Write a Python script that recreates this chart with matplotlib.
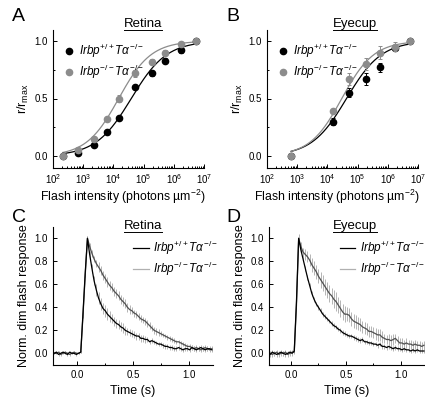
import matplotlib
matplotlib.use("Agg")
import matplotlib.pyplot as plt
from matplotlib.ticker import MultipleLocator, LogLocator, NullFormatter
import numpy as np

plt.rcParams['font.family'] = ['Liberation Sans', 'DejaVu Sans']
plt.rcParams['mathtext.fontset'] = 'custom'
plt.rcParams['mathtext.rm'] = 'Liberation Sans'
plt.rcParams['mathtext.it'] = 'Liberation Sans:italic'
plt.rcParams['mathtext.default'] = 'it'

# ---- intensity-response data (log10 of flash intensity) ----
ret_logI = [2.32, 2.83, 3.35, 3.79, 4.18, 4.71, 5.27, 5.72, 6.23, 6.73]
ret_wt = [0.00, 0.03, 0.10, 0.21, 0.33, 0.60, 0.72, 0.83, 0.92, 1.00]
ret_wt_err = [0.01, 0.01, 0.01, 0.01, 0.02, 0.02, 0.02, 0.02, 0.02, 0.00]
ret_ko = [0.00, 0.05, 0.15, 0.32, 0.50, 0.72, 0.82, 0.90, 0.97, 1.00]
ret_ko_err = [0.01, 0.01, 0.01, 0.01, 0.03, 0.03, 0.02, 0.02, 0.01, 0.00]

eye_logI = [2.80, 4.20, 4.72, 5.27, 5.74, 6.25, 6.73]
eye_wt = [0.00, 0.30, 0.55, 0.67, 0.77, 0.94, 1.00]
eye_wt_err = [0.00, 0.03, 0.04, 0.05, 0.04, 0.02, 0.00]
eye_ko = [0.00, 0.39, 0.67, 0.80, 0.90, 0.95, 1.00]
eye_ko_err = [0.00, 0.02, 0.05, 0.05, 0.06, 0.04, 0.00]

# Hill fit parameters: (I_half, n)
ret_wt_fit = (3.9e4, 0.74)
ret_ko_fit = (1.5e4, 0.81)
eye_wt_fit = (4.3e4, 0.75)
eye_ko_fit = (3.0e4, 0.82)

# ---- dim flash responses, sampled every 20 ms from -0.21 s ----
t0, dt = -0.21, 0.02
dim_ret_wt = [0.00, 0.01, -0.01, 0.00, 0.01, 0.00, -0.01, 0.01, 0.00, 0.00, -0.01, 0.00,
              0.01, 0.35, 0.70, 1.00, 0.86, 0.74, 0.63, 0.55, 0.48, 0.43, 0.39, 0.37,
              0.34, 0.32, 0.30, 0.28, 0.26, 0.25, 0.23, 0.22, 0.20, 0.19, 0.18, 0.17,
              0.16, 0.15, 0.15, 0.13, 0.13, 0.12, 0.12, 0.10, 0.11, 0.10, 0.09, 0.08,
              0.08, 0.07, 0.06, 0.06, 0.05, 0.05, 0.04, 0.04, 0.05, 0.04, 0.03, 0.04,
              0.04, 0.03, 0.05, 0.04, 0.03, 0.04, 0.05, 0.04, 0.03, 0.04, 0.04, 0.03]
dim_ret_ko = [0.00, 0.00, 0.01, -0.01, 0.00, 0.01, 0.00, -0.01, 0.00, 0.01, 0.00, 0.00,
              0.01, 0.33, 0.68, 1.00, 0.93, 0.87, 0.82, 0.78, 0.75, 0.72, 0.68, 0.65,
              0.62, 0.59, 0.57, 0.54, 0.52, 0.50, 0.47, 0.45, 0.43, 0.40, 0.38, 0.37,
              0.35, 0.34, 0.32, 0.30, 0.29, 0.28, 0.26, 0.24, 0.22, 0.20, 0.19, 0.18,
              0.17, 0.16, 0.15, 0.14, 0.13, 0.12, 0.11, 0.10, 0.10, 0.09, 0.08, 0.07,
              0.06, 0.06, 0.05, 0.04, 0.05, 0.04, 0.03, 0.04, 0.05, 0.04, 0.03, 0.04]
dim_eye_wt = [0.00, -0.01, 0.01, 0.00, -0.01, 0.00, 0.01, 0.00, -0.01, 0.00, 0.01, 0.00,
              0.02, 0.45, 1.00, 0.90, 0.82, 0.74, 0.66, 0.59, 0.52, 0.47, 0.43, 0.40,
              0.37, 0.34, 0.32, 0.30, 0.28, 0.26, 0.24, 0.23, 0.21, 0.20, 0.18, 0.17,
              0.16, 0.15, 0.15, 0.14, 0.13, 0.12, 0.11, 0.12, 0.10, 0.10, 0.09, 0.09,
              0.08, 0.08, 0.07, 0.08, 0.06, 0.06, 0.05, 0.06, 0.05, 0.04, 0.05, 0.04,
              0.04, 0.03, 0.04, 0.03, 0.03, 0.02, 0.03, 0.02, 0.03, 0.02, 0.02, 0.02]
dim_eye_ko = [0.01, 0.00, -0.01, 0.00, 0.01, -0.01, 0.00, 0.00, 0.01, -0.01, 0.00, 0.01,
              0.01, 0.42, 1.00, 0.93, 0.88, 0.86, 0.84, 0.81, 0.77, 0.74, 0.71, 0.67,
              0.64, 0.61, 0.58, 0.55, 0.52, 0.50, 0.47, 0.45, 0.42, 0.39, 0.36, 0.34,
              0.34, 0.33, 0.30, 0.28, 0.27, 0.26, 0.25, 0.23, 0.22, 0.21, 0.19, 0.19,
              0.18, 0.17, 0.16, 0.16, 0.14, 0.13, 0.12, 0.12, 0.11, 0.12, 0.13, 0.11,
              0.09, 0.09, 0.08, 0.09, 0.08, 0.08, 0.07, 0.08, 0.07, 0.07, 0.06, 0.07]
dim_ret_wt_err = [0.01] * 13 + [0.02, 0.02, 0.02, 0.03, 0.04, 0.04, 0.05, 0.05, 0.05, 0.05, 0.05,
                                0.05, 0.05, 0.04, 0.04, 0.04, 0.04, 0.04, 0.04, 0.04, 0.03, 0.03,
                                0.03, 0.03, 0.03, 0.03, 0.03, 0.03, 0.03, 0.02, 0.02, 0.02, 0.02,
                                0.02, 0.02, 0.02, 0.02, 0.02, 0.02, 0.02, 0.02, 0.02, 0.02, 0.02,
                                0.02, 0.02, 0.02, 0.02, 0.02, 0.02, 0.02, 0.02, 0.02, 0.02, 0.02,
                                0.02, 0.02, 0.02, 0.02]
dim_ret_ko_err = [0.01] * 13 + [0.02, 0.02, 0.02, 0.03, 0.03, 0.03, 0.03, 0.04, 0.04, 0.04, 0.04,
                                0.04, 0.04, 0.04, 0.04, 0.04, 0.04, 0.04, 0.04, 0.04, 0.04, 0.04,
                                0.03, 0.03, 0.03, 0.03, 0.03, 0.03, 0.03, 0.03, 0.03, 0.03, 0.03,
                                0.03, 0.03, 0.02, 0.02, 0.02, 0.02, 0.02, 0.02, 0.02, 0.02, 0.02,
                                0.02, 0.02, 0.02, 0.02, 0.02, 0.02, 0.02, 0.02, 0.02, 0.02, 0.02,
                                0.02, 0.02, 0.02, 0.02]
dim_eye_wt_err = [0.02] * 13 + [0.02, 0.02, 0.02, 0.02, 0.02, 0.02, 0.02, 0.02, 0.02, 0.02, 0.02,
                                0.02, 0.02, 0.02, 0.02, 0.02, 0.02, 0.02, 0.02, 0.02, 0.02, 0.02,
                                0.02, 0.02, 0.02, 0.02, 0.02, 0.02, 0.02, 0.02, 0.02, 0.02, 0.02,
                                0.02, 0.02, 0.02, 0.02, 0.02, 0.02, 0.02, 0.02, 0.02, 0.02, 0.02,
                                0.02, 0.02, 0.02, 0.02, 0.02, 0.02, 0.02, 0.02, 0.02, 0.02, 0.02,
                                0.02, 0.02, 0.02, 0.02]
dim_eye_ko_err = [0.02] * 13 + [0.03, 0.04, 0.04, 0.04, 0.05, 0.05, 0.05, 0.06, 0.06, 0.06, 0.06,
                                0.07, 0.07, 0.07, 0.07, 0.07, 0.07, 0.08, 0.08, 0.07, 0.07, 0.07,
                                0.07, 0.06, 0.06, 0.06, 0.06, 0.06, 0.06, 0.06, 0.05, 0.05, 0.05,
                                0.05, 0.05, 0.05, 0.05, 0.05, 0.05, 0.05, 0.04, 0.04, 0.05, 0.05,
                                0.05, 0.04, 0.04, 0.04, 0.04, 0.04, 0.04, 0.04, 0.04, 0.04, 0.04,
                                0.04, 0.04, 0.04, 0.04]

lab_wt = r'$Irbp^{+/+}T\alpha^{-/-}$'
lab_ko = r'$Irbp^{-/-}T\alpha^{-/-}$'
GRAY = '#8c8c8c'


def hill(I, fit):
    Ih, n = fit
    return I ** n / (I ** n + Ih ** n)


def style(ax):
    for s in ['top', 'right']:
        ax.spines[s].set_visible(False)
    ax.tick_params(which='both', direction='in', labelsize=7, width=0.7)
    ax.tick_params(which='major', length=3)
    ax.tick_params(which='minor', length=1.6)
    for s in ['left', 'bottom']:
        ax.spines[s].set_linewidth(0.8)


def ir_panel(ax, logI, wt, wt_err, ko, ko_err, fit_wt, fit_ko, xlab_x):
    I = 10 ** np.array(logI)
    Ifine = np.logspace(logI[0], logI[-1], 200)
    ax.plot(Ifine, hill(Ifine, fit_wt), color='black', lw=0.9)
    ax.plot(Ifine, hill(Ifine, fit_ko), color=GRAY, lw=0.9)
    ax.errorbar(I, wt, yerr=wt_err, fmt='o', color='black', ms=4.5, capsize=1.5,
                elinewidth=0.7, capthick=0.7, zorder=3)
    ax.errorbar(I, ko, yerr=ko_err, fmt='o', color=GRAY, ms=4.5, capsize=1.5,
                elinewidth=0.7, capthick=0.7, zorder=4)
    ax.set_xscale('log')
    ax.set_xlim(1e2, 1e7)
    ax.set_ylim(-0.1, 1.1)
    ax.set_yticks([0.0, 0.5, 1.0])
    ax.yaxis.set_minor_locator(MultipleLocator(0.25))
    ax.xaxis.set_major_locator(LogLocator(base=10, numticks=10))
    ax.xaxis.set_minor_locator(LogLocator(base=10, subs=np.arange(2, 10), numticks=10))
    ax.xaxis.set_minor_formatter(NullFormatter())
    style(ax)
    ax.set_ylabel(r'r/r$_{\mathrm{max}}$', fontsize=9, labelpad=3)
    ax.set_xlabel(u'Flash intensity (photons \u00b5m$^{\\mathrm{-2}}$)', fontsize=8.8)
    ax.xaxis.set_label_coords(xlab_x, -0.15)
    handles = [plt.Line2D([], [], ls='none', marker='o', color='black', ms=4.5),
               plt.Line2D([], [], ls='none', marker='o', color=GRAY, ms=4.5)]
    ax.legend(handles, [lab_wt, lab_ko], loc='upper left', bbox_to_anchor=(-0.01, 0.97),
              frameon=False, fontsize=8.5, handletextpad=0.1, labelspacing=0.2,
              borderpad=0.2, handlelength=1.5)


def dim_panel(ax, wt, wt_err, ko, ko_err, xlim, leg_x):
    t = t0 + dt * np.arange(len(wt))
    ax.vlines(t, np.array(ko) - ko_err, np.array(ko) + ko_err, color='#b4b4b4', lw=0.7)
    ax.vlines(t, np.array(wt) - wt_err, np.array(wt) + wt_err, color='#b4b4b4', lw=0.7)
    ax.plot(t, ko, color='#505050', lw=0.9)
    ax.plot(t, wt, color='black', lw=0.9)
    ax.set_xlim(*xlim)
    ax.set_ylim(-0.1, 1.1)
    ax.set_xticks([0.0, 0.5, 1.0])
    ax.xaxis.set_minor_locator(MultipleLocator(0.25))
    ax.set_yticks(np.arange(0, 1.01, 0.2))
    style(ax)
    ax.set_ylabel('Norm. dim flash response', fontsize=9, labelpad=3)
    ax.set_xlabel('Time (s)', fontsize=9, labelpad=4)
    lines = [plt.Line2D([], [], color='black', lw=0.9),
             plt.Line2D([], [], color='#b0b0b0', lw=0.9)]
    ax.legend(lines, [lab_wt, lab_ko], loc='upper left', bbox_to_anchor=(leg_x, 0.97),
              frameon=False, fontsize=8.5, handletextpad=0.4, labelspacing=0.2,
              borderpad=0.2, handlelength=1.3)


def underline_title(fig, text, x, y):
    tx = fig.text(x, y, text, ha='center', va='baseline', fontsize=9.5)
    fig.canvas.draw()
    bb = tx.get_window_extent().transformed(fig.transFigure.inverted())
    fig.add_artist(plt.Line2D([bb.x0, bb.x1], [y - 0.007, y - 0.007], color='black', lw=0.7,
                              transform=fig.transFigure))


fig = plt.figure(figsize=(4.25, 4.01), dpi=100)
axA = fig.add_axes([53 / 425, 1 - 167.5 / 401, 151 / 425, 138 / 401])
axB = fig.add_axes([267 / 425, 1 - 167.5 / 401, 151 / 425, 138 / 401])
axC = fig.add_axes([53 / 425, 1 - 364.8 / 401, 160 / 425, 138 / 401])
axD = fig.add_axes([269 / 425, 1 - 364.8 / 401, 156 / 425, 138 / 401])

ir_panel(axA, ret_logI, ret_wt, ret_wt_err, ret_ko, ret_ko_err, ret_wt_fit, ret_ko_fit, 0.46)
ir_panel(axB, eye_logI, eye_wt, eye_wt_err, eye_ko, eye_ko_err, eye_wt_fit, eye_ko_fit, 0.46)
dim_panel(axC, dim_ret_wt, dim_ret_wt_err, dim_ret_ko, dim_ret_ko_err, (-0.22, 1.22), 0.45)
dim_panel(axD, dim_eye_wt, dim_eye_wt_err, dim_eye_ko, dim_eye_ko_err, (-0.2, 1.22), 0.40)

for letter, x, y in [('A', 12, 21), ('B', 226, 21), ('C', 12, 222), ('D', 226, 222)]:
    fig.text(x / 425, 1 - y / 401, letter, fontsize=14, ha='left', va='baseline')

underline_title(fig, 'Retina', 143 / 425, 1 - 27 / 401)
underline_title(fig, 'Eyecup', 355 / 425, 1 - 27 / 401)
underline_title(fig, 'Retina', 143 / 425, 1 - 229 / 401)
underline_title(fig, 'Eyecup', 355 / 425, 1 - 229 / 401)

fig.savefig('out.png', dpi=100)
